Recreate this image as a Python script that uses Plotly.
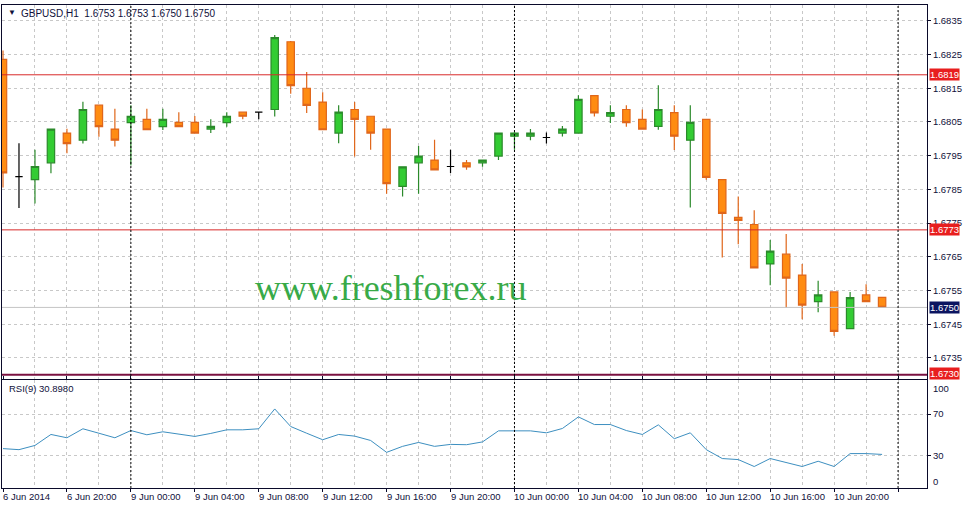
import plotly.graph_objects as go

# ---------------- data ----------------
opens = [1.68236, 1.67888, 1.67879, 1.67929, 1.68017, 1.67996, 1.68100, 1.68029,
         1.68048, 1.68058, 1.68036, 1.68049, 1.68049, 1.68029, 1.68048, 1.68079,
         1.68079, 1.68087, 1.68288, 1.68150, 1.68109, 1.68017, 1.68087, 1.68067,
         1.68029, 1.67859, 1.67929, 1.67937, 1.67918, 1.67929, 1.67929, 1.67949,
         1.68008, 1.68008, 1.68004, 1.68017, 1.68017, 1.68128, 1.68067, 1.68087,
         1.68058, 1.68037, 1.68078, 1.67996, 1.68058, 1.67879, 1.67767, 1.67746,
         1.67629, 1.67658, 1.67596, 1.67517, 1.67546, 1.67437, 1.67537, 1.67530]
highs = [1.68262, 1.67987, 1.67968, 1.68030, 1.68030, 1.68110, 1.68100, 1.68089,
         1.68100, 1.68089, 1.68089, 1.68079, 1.68068, 1.68058, 1.68079, 1.68079,
         1.68079, 1.68308, 1.68290, 1.68198, 1.68138, 1.68100, 1.68109, 1.68067,
         1.68029, 1.67917, 1.67979, 1.67997, 1.67968, 1.67937, 1.67937, 1.68017,
         1.68020, 1.68029, 1.68019, 1.68038, 1.68129, 1.68128, 1.68100, 1.68100,
         1.68087, 1.68159, 1.68100, 1.68100, 1.68058, 1.67879, 1.67829, 1.67788,
         1.67700, 1.67718, 1.67629, 1.67579, 1.67546, 1.67546, 1.67569, 1.67530]
lows = [1.67856, 1.67795, 1.67808, 1.67898, 1.67957, 1.67986, 1.68006, 1.67977,
        1.67921, 1.68027, 1.68026, 1.68036, 1.68017, 1.68017, 1.68036, 1.68058,
        1.68058, 1.68066, 1.68134, 1.68077, 1.68027, 1.67987, 1.67948, 1.67968,
        1.67837, 1.67829, 1.67837, 1.67908, 1.67899, 1.67908, 1.67917, 1.67937,
        1.67968, 1.67996, 1.67986, 1.68007, 1.68017, 1.68066, 1.68047, 1.68036,
        1.68029, 1.68027, 1.67967, 1.67796, 1.67879, 1.67648, 1.67687, 1.67617,
        1.67566, 1.67498, 1.67465, 1.67486, 1.67416, 1.67437, 1.67517, 1.67500]
closes = [1.67899, 1.67888, 1.67918, 1.68029, 1.67986, 1.68087, 1.68036, 1.67996,
          1.68067, 1.68027, 1.68058, 1.68036, 1.68017, 1.68037, 1.68067, 1.68067,
          1.68079, 1.68300, 1.68158, 1.68099, 1.68027, 1.68079, 1.68058, 1.68017,
          1.67867, 1.67917, 1.67949, 1.67908, 1.67918, 1.67917, 1.67937, 1.68017,
          1.68017, 1.68017, 1.68004, 1.68029, 1.68117, 1.68077, 1.68078, 1.68048,
          1.68029, 1.68087, 1.68008, 1.68049, 1.67886, 1.67779, 1.67758, 1.67617,
          1.67667, 1.67587, 1.67507, 1.67537, 1.67429, 1.67529, 1.67517, 1.67500]
rsi = [36.5, 35.5, 39.6, 50.2, 47.0, 55.7, 51.4, 47.0, 54.0, 49.9, 52.8, 50.2,
       48.3, 51.2, 54.7, 54.7, 55.7, 74.9, 57.9, 51.4, 45.1, 50.2, 48.6, 44.4,
       32.9, 38.7, 42.5, 38.7, 40.6, 40.3, 43.0, 53.7, 53.7, 53.7, 51.8, 56.0,
       67.2, 59.8, 59.8, 54.0, 50.2, 59.5, 46.1, 51.8, 35.5, 26.9, 25.9, 19.2,
       26.9, 23.0, 19.2, 24.3, 19.2, 31.7, 31.7, 30.9]
time_labels = ["6 Jun 2014", "6 Jun 20:00", "9 Jun 00:00", "9 Jun 04:00", "9 Jun 08:00",
               "9 Jun 12:00", "9 Jun 16:00", "9 Jun 20:00", "10 Jun 00:00", "10 Jun 04:00",
               "10 Jun 08:00", "10 Jun 12:00", "10 Jun 16:00", "10 Jun 20:00"]
price_ticks = [1.6735, 1.6745, 1.6755, 1.6765, 1.6775, 1.6785, 1.6795, 1.6805,
               1.6815, 1.6825, 1.6835]
red_levels = [1.6819, 1.6773]
bottom_level = 1.6730
bid = 1.6750
day_breaks = [8, 32, 56]

# --------------- figure ---------------
FONT = "Liberation Sans, Arial, sans-serif"
TXT = "#10103a"
GRID = "#c8c8c8"
XR = [-0.0625, 57.81]
n = len(opens)
xs = list(range(n))
doji = [i for i in xs if opens[i] == closes[i]]
norm = [i for i in xs if opens[i] != closes[i]]

fig = go.Figure()
# horizontal level lines (drawn under the candles)
for lv, col in [(bid, "#c4c4c4")] + [(lv, "#d82a2a") for lv in red_levels]:
    fig.add_trace(go.Scatter(x=XR, y=[lv, lv], mode="lines", line=dict(color=col, width=1),
                             hoverinfo="skip", showlegend=False, xaxis="x", yaxis="y"))

fig.add_trace(go.Candlestick(
    x=norm, open=[opens[i] for i in norm], high=[highs[i] for i in norm],
    low=[lows[i] for i in norm], close=[closes[i] for i in norm],
    increasing=dict(fillcolor="#33cc33", line=dict(color="#2b8a2b", width=1.2)),
    decreasing=dict(fillcolor="#ff8c12", line=dict(color="#e0661a", width=1.2)),
    whiskerwidth=0, hoverinfo="skip", showlegend=False, xaxis="x", yaxis="y"))
fig.add_trace(go.Candlestick(
    x=doji, open=[opens[i] for i in doji], high=[highs[i] for i in doji],
    low=[lows[i] for i in doji], close=[closes[i] for i in doji],
    increasing=dict(fillcolor="#000000", line=dict(color="#000000", width=1.2)),
    decreasing=dict(fillcolor="#000000", line=dict(color="#000000", width=1.2)),
    whiskerwidth=0, hoverinfo="skip", showlegend=False, xaxis="x", yaxis="y"))
fig.add_trace(go.Scatter(x=xs, y=rsi, mode="lines",
                         line=dict(color="#3d8fc0", width=1),
                         hoverinfo="skip", showlegend=False, xaxis="x", yaxis="y2"))

shapes = []
shapes.append(dict(type="line", xref="paper", x0=0, x1=1, yref="y",
                   y0=bottom_level, y1=bottom_level,
                   line=dict(color="#7a1040", width=2), layer="above"))
for d in day_breaks:
    shapes.append(dict(type="line", xref="x", x0=d, x1=d, yref="paper", y0=0, y1=1,
                       line=dict(color="#000000", width=1, dash="2px,2px"), layer="above"))

ann = []
ann.append(dict(xref="paper", yref="paper", x=0.004, y=0.997, xanchor="left", yanchor="top",
                text="▼", showarrow=False, font=dict(family=FONT, size=8, color=TXT)))
ann.append(dict(xref="paper", yref="paper", x=0.018, y=0.998, xanchor="left", yanchor="top",
                text="GBPUSD,H1  %.4f %.4f %.4f %.4f" % (opens[-1], highs[-1], lows[-1], closes[-1]),
                showarrow=False, font=dict(family=FONT, size=10, color=TXT)))
ann.append(dict(xref="paper", yref="paper", x=0.005, y=0.2215, xanchor="left", yanchor="top",
                text="RSI(9) %.4f" % 30.898, showarrow=False,
                font=dict(family=FONT, size=9.5, color=TXT)))
ann.append(dict(xref="x", yref="y", x=24.25, y=1.67559, xanchor="center", yanchor="middle",
                text="www.freshforex.ru", showarrow=False,
                font=dict(family="Liberation Serif, Times New Roman, serif", size=36,
                          color="#38aa48")))
for k, lab in enumerate(time_labels):
    ann.append(dict(xref="x", yref="paper", x=4 * k, y=0, xanchor="left", yanchor="top",
                    xshift=-2, yshift=-1, text=lab, showarrow=False,
                    font=dict(family=FONT, size=9.5, color=TXT)))
for lv in red_levels + [bottom_level]:
    ann.append(dict(xref="paper", yref="y", x=1, y=lv, xanchor="left", yanchor="middle",
                    xshift=2, yshift=(1 if lv == bottom_level else 0),
                    text="%.4f" % lv, showarrow=False, bgcolor="#e81e1e",
                    borderpad=0, font=dict(family=FONT, size=9.5, color="#ffffff")))
ann.append(dict(xref="paper", yref="y", x=1, y=bid, xanchor="left", yanchor="middle",
                xshift=2, text="%.4f" % bid, showarrow=False, bgcolor="#0b1460",
                borderpad=0, font=dict(family=FONT, size=9.5, color="#ffffff")))
for val, py in [(100, 0.2064), (0, 0.0144)]:
    ann.append(dict(xref="paper", yref="paper", x=1, y=py, xanchor="left", yanchor="middle",
                    xshift=4, text=str(val), showarrow=False,
                    font=dict(family=FONT, size=9.5, color=TXT)))

AX = "#0a0a2a"
fig.update_layout(
    width=969, height=505, margin=dict(l=1, r=42, t=1, b=17),
    paper_bgcolor="#ffffff", plot_bgcolor="#ffffff",
    boxgap=0.34, showlegend=False, hovermode=False,
    shapes=shapes, annotations=ann,
    xaxis=dict(type="linear", range=XR, anchor="y2", domain=[0, 1],
               rangeslider=dict(visible=False), showline=True, linecolor=AX, linewidth=1,
               mirror="all", tickvals=list(range(0, 57, 4)), ticks="outside", ticklen=3,
               tickcolor=AX, showticklabels=False, showgrid=True, gridcolor=GRID,
               griddash="3px,3px", gridwidth=1, zeroline=False,
               minor=dict(tickvals=list(range(2, 57, 4)), showgrid=True, gridcolor=GRID,
                          griddash="3px,3px", ticks="")),
    yaxis=dict(domain=[0.2259, 1], range=[1.67288, 1.68397], side="right", anchor="x",
               tickvals=price_ticks, tickformat=".4f", ticks="outside", ticklen=3,
               tickcolor=AX, showline=True, mirror=True, linecolor=AX, linewidth=1,
               showgrid=True, gridcolor=GRID, griddash="3px,3px", zeroline=False,
               tickfont=dict(family=FONT, size=9.5, color=TXT)),
    yaxis2=dict(domain=[0, 0.2238], range=[-1.6, 103], side="right", anchor="x",
                tickvals=[30, 70], ticks="outside", ticklen=3, tickcolor=AX,
                showline=True, mirror=True, linecolor=AX, linewidth=1,
                showgrid=True, gridcolor=GRID, griddash="3px,3px", zeroline=False,
                tickfont=dict(family=FONT, size=9.5, color=TXT)),
)

fig.write_html("out.html", config={"displayModeBar": False},
               post_script="document.body.style.margin='0';")
